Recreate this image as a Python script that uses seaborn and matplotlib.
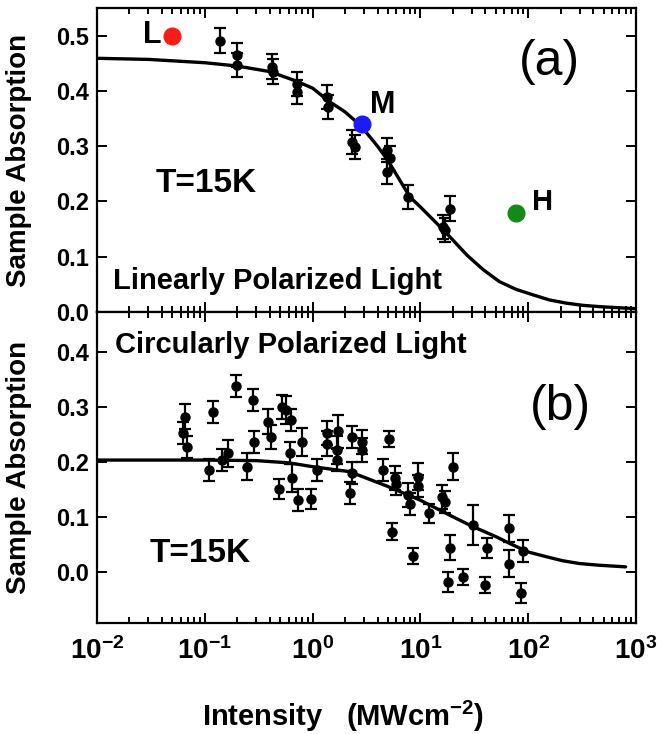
import numpy as np
import pandas as pd
import matplotlib
matplotlib.use("Agg")
import matplotlib.pyplot as plt
import seaborn as sns
from matplotlib.ticker import LogLocator, NullFormatter

# ---- data ----
# (a) linearly polarized light
lin_I = [0.138, 0.198, 0.198, 0.418, 0.43, 0.71, 0.72, 1.35, 1.38, 2.3, 2.5,
         4.86, 5.2, 4.86, 7.7, 16.2, 17.0, 18.8]
lin_A = [0.491, 0.465, 0.447, 0.444, 0.435, 0.413, 0.398, 0.389, 0.371, 0.308,
         0.299, 0.293, 0.278, 0.254, 0.208, 0.154, 0.148, 0.187]
lin_err = [0.022, 0.022, 0.022, 0.022, 0.022, 0.022, 0.022, 0.022, 0.022, 0.022,
           0.022, 0.022, 0.022, 0.022, 0.021, 0.022, 0.022, 0.022]

lin_fit_I = [0.01, 0.03, 0.1, 0.2, 0.4, 0.7, 1.0, 1.4, 2.0, 2.8, 4.0, 5.0, 8.0,
             10, 17, 27, 38, 54, 77, 111, 158, 226, 323, 465, 1000]
lin_fit_A = [0.459, 0.457, 0.451, 0.445, 0.435, 0.418, 0.405, 0.382, 0.362, 0.337,
             0.300, 0.274, 0.208, 0.190, 0.145, 0.103, 0.077, 0.055, 0.041, 0.031,
             0.0217, 0.016, 0.012, 0.0096, 0.006]

# L, M, H excitation points
lmh_label = ["L", "M", "H"]
lmh_I = [0.05, 2.85, 77]
lmh_A = [0.50, 0.34, 0.18]
lmh_color = ["#ff1a1a", "#1a1aff", "#138a13"]

# (b) circularly polarized light
cir_I = [0.0655, 0.0624, 0.068, 0.120, 0.110, 0.143, 0.165, 0.195, 0.245, 0.278,
         0.288, 0.388, 0.411, 0.488, 0.516, 0.566, 0.630, 0.617, 0.640, 0.727,
         0.793, 0.96, 1.09, 1.35, 1.37, 1.67, 1.73, 1.67, 2.31, 2.31, 2.22, 2.85,
         2.85, 4.53, 5.1, 5.5, 5.81, 6.0, 7.73, 8.0, 8.59, 9.57, 9.57, 12.1, 15.8,
         16.9, 20.2, 18.8, 18.2, 25, 31, 41.2, 39.7, 66.8, 66.8, 89, 85.8]
cir_A = [0.282, 0.252, 0.227, 0.291, 0.185, 0.203, 0.215, 0.338, 0.191, 0.313,
         0.236, 0.273, 0.245, 0.150, 0.300, 0.294, 0.276, 0.215, 0.170, 0.130,
         0.236, 0.133, 0.185, 0.252, 0.233, 0.221, 0.255, 0.203, 0.245, 0.179,
         0.143, 0.236, 0.221, 0.185, 0.241, 0.073, 0.170, 0.160, 0.139, 0.124,
         0.029, 0.173, 0.155, 0.106, 0.136, 0.127, 0.191, 0.044, -0.018, -0.009,
         0.085, 0.043, -0.024, 0.079, 0.015, 0.038, -0.038]
cir_err = [0.022, 0.02, 0.02, 0.02, 0.02, 0.02, 0.025, 0.02, 0.025, 0.02,
           0.02, 0.022, 0.022, 0.018, 0.022, 0.025, 0.02, 0.02, 0.025, 0.02,
           0.025, 0.018, 0.02, 0.022, 0.022, 0.025, 0.03, 0.02, 0.02, 0.02,
           0.02, 0.022, 0.022, 0.02, 0.015, 0.015, 0.022, 0.02, 0.022, 0.02,
           0.015, 0.025, 0.02, 0.018, 0.022, 0.02, 0.025, 0.022, 0.018, 0.015,
           0.036, 0.018, 0.015, 0.025, 0.025, 0.02, 0.018]

cir_fit_I = [0.01, 0.1, 0.3, 0.6, 1.0, 2.2, 5.0, 10, 20, 30, 50, 70, 100, 150,
             210, 300, 450, 800]
cir_fit_A = [0.203, 0.203, 0.202, 0.198, 0.191, 0.182, 0.155, 0.13, 0.10, 0.083,
             0.064, 0.05, 0.036, 0.027, 0.020, 0.015, 0.012, 0.009]

x_ticks = [1e-2, 1e-1, 1e0, 1e1, 1e2, 1e3]
x_ticklabels = [r"$\mathbf{10^{-2}}$", r"$\mathbf{10^{-1}}$", r"$\mathbf{10^{0}}$",
                r"$\mathbf{10^{1}}$", r"$\mathbf{10^{2}}$", r"$\mathbf{10^{3}}$"]

# ---- style ----
sns.set_theme(style="ticks")
plt.rcParams["font.family"] = ["Liberation Sans", "DejaVu Sans"]
plt.rcParams["font.weight"] = "bold"
plt.rcParams["mathtext.fontset"] = "custom"
plt.rcParams["mathtext.bf"] = "Liberation Sans:bold"
plt.rcParams["mathtext.rm"] = "Liberation Sans:bold"
plt.rcParams["axes.linewidth"] = 1.6
plt.rcParams["axes.edgecolor"] = "black"
plt.rcParams["text.color"] = "black"
plt.rcParams["axes.labelcolor"] = "black"
plt.rcParams["xtick.color"] = "black"
plt.rcParams["ytick.color"] = "black"

W, H = 671, 734
fig = plt.figure(figsize=(W / 100, H / 100), dpi=100)
left, right = 97, 636
ax1 = fig.add_axes([left / W, 1 - 312 / H, (right - left) / W, 304 / H])
ax2 = fig.add_axes([left / W, 1 - 623 / H, (right - left) / W, 311 / H])


def style_axis(ax, ylim, yticks):
    ax.set_xscale("log")
    ax.set_xlim(1e-2, 1e3)
    ax.set_ylim(*ylim)
    ax.set_yticks(yticks)
    ax.set_yticklabels([f"{v:.1f}" for v in yticks])
    ax.xaxis.set_minor_locator(LogLocator(base=10, subs=np.arange(2, 10), numticks=20))
    ax.xaxis.set_minor_formatter(NullFormatter())
    ax.tick_params(which="both", direction="in", top=True, right=True, width=1.4,
                   color="black")
    ax.tick_params(which="major", length=7)
    ax.tick_params(which="minor", length=4)
    ax.tick_params(axis="y", labelsize=17, pad=6)
    ax.tick_params(axis="x", labelsize=20, pad=10)
    for s in ax.spines.values():
        s.set_visible(True)
        s.set_linewidth(1.6)
        s.set_color("black")
    ax.set_ylabel("Sample Absorption", fontsize=20, fontweight="bold")
    ax.yaxis.set_label_coords(-0.12, 0.5)
    ax.set_xlabel("")


# ---- panel (a) ----
lin_fit = pd.DataFrame({"I": lin_fit_I, "A": lin_fit_A})
sns.lineplot(data=lin_fit, x="I", y="A", ax=ax1, color="black", lw=2.4, sort=False)
ax1.errorbar(lin_I, lin_A, yerr=lin_err, fmt="o", color="black", ms=6.5,
             elinewidth=1.6, capsize=4, capthick=1.6, zorder=3)
for lab, xi, yi, c in zip(lmh_label, lmh_I, lmh_A, lmh_color):
    ax1.plot(xi, yi, "o", color=c, ms=12, zorder=4)
style_axis(ax1, (0, 0.55), [0.0, 0.1, 0.2, 0.3, 0.4, 0.5])
ax1.set_xticks(x_ticks)
ax1.set_xticklabels([])

ax1.text((162 - left) / 539, (312 - 43) / 304, "L", transform=ax1.transAxes,
         ha="right", va="baseline", fontsize=22, fontweight="bold")
ax1.text((370 - left) / 539, (312 - 113) / 304, "M", transform=ax1.transAxes,
         ha="left", va="baseline", fontsize=22, fontweight="bold")
ax1.text((532 - left) / 539, (312 - 210) / 304, "H", transform=ax1.transAxes,
         ha="left", va="baseline", fontsize=21, fontweight="bold")
ax1.text(0.840, 0.822, "(a)", transform=ax1.transAxes, ha="center", va="center",
         fontsize=36, fontweight="normal")
ax1.text(0.108, 0.396, "T=15K", transform=ax1.transAxes, ha="left",
         va="baseline", fontsize=24, fontweight="bold")
ax1.text(0.030, 0.0757, "Linearly Polarized Light", transform=ax1.transAxes,
         ha="left", va="baseline", fontsize=21, fontweight="bold")

# ---- panel (b) ----
cir_fit = pd.DataFrame({"I": cir_fit_I, "A": cir_fit_A})
sns.lineplot(data=cir_fit, x="I", y="A", ax=ax2, color="black", lw=2.4, sort=False)
ax2.errorbar(cir_I, cir_A, yerr=cir_err, fmt="o", color="black", ms=6.5,
             elinewidth=1.6, capsize=4, capthick=1.6, zorder=3)
style_axis(ax2, (-0.093, 0.472), [0.0, 0.1, 0.2, 0.3, 0.4])
ax2.set_xticks(x_ticks)
ax2.set_xticklabels(x_ticklabels)

ax2.text(0.0334, 0.867, "Circularly Polarized Light", transform=ax2.transAxes,
         ha="left", va="baseline", fontsize=21, fontweight="bold")
ax2.text(0.859, 0.6945, "(b)", transform=ax2.transAxes, ha="center", va="center",
         fontsize=36, fontweight="normal")
ax2.text(0.0983, 0.197, "T=15K", transform=ax2.transAxes, ha="left",
         va="baseline", fontsize=24, fontweight="bold")

fig.text(343 / W, 1 - 716 / H, r"Intensity   (MWcm$^{\mathbf{-2}}$)",
         ha="center", va="center", fontsize=21, fontweight="bold")

fig.savefig("out.png", dpi=100)
